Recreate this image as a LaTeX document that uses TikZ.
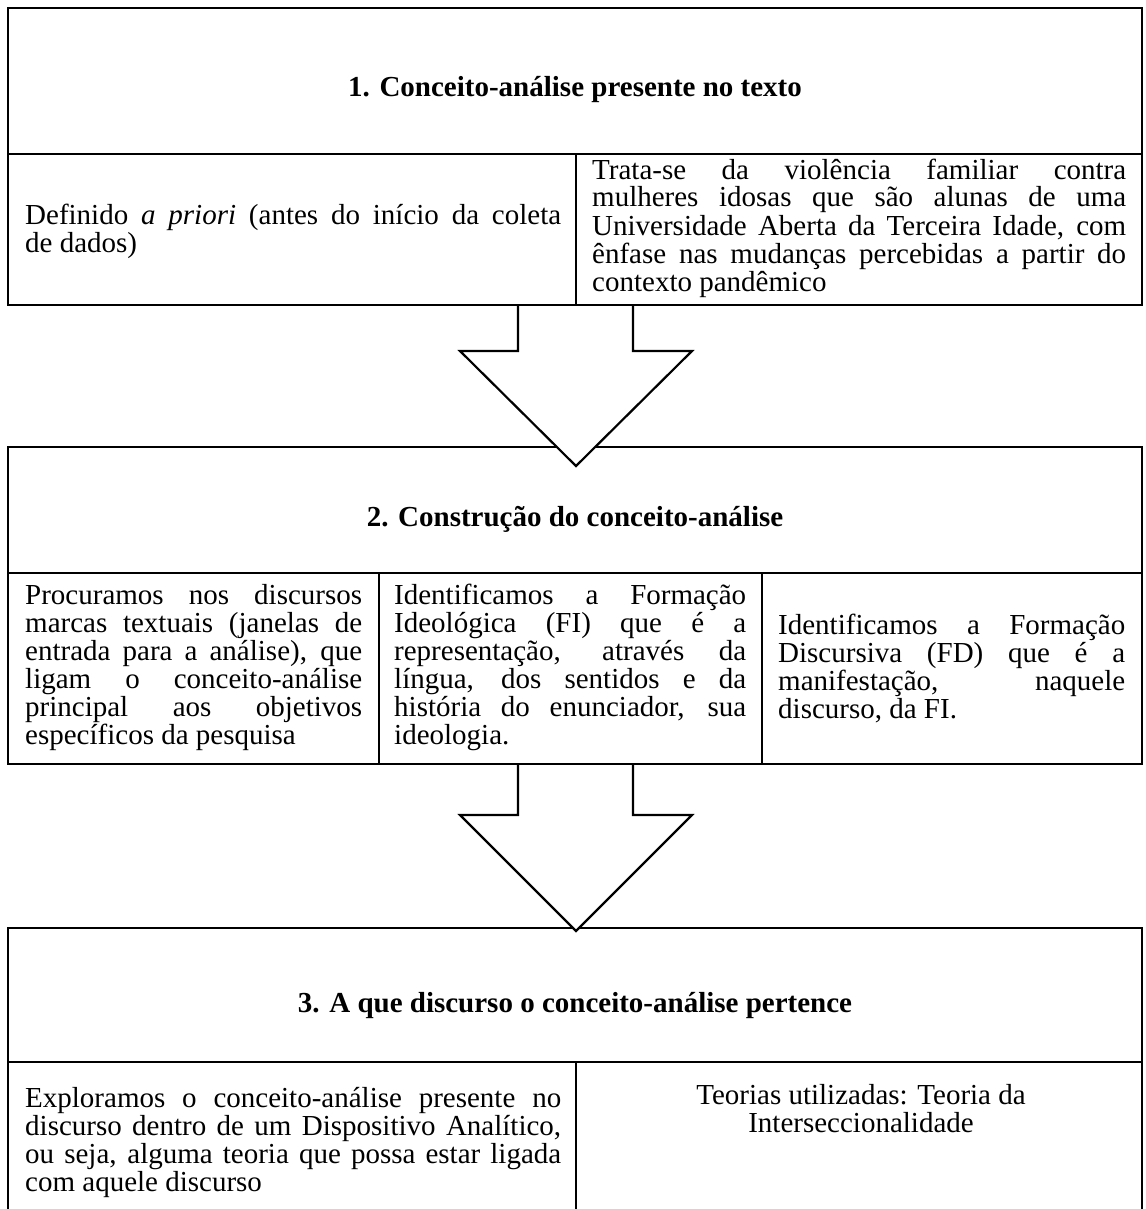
\documentclass[tikz,border=0pt]{standalone}
\usepackage{fontspec}
\setmainfont{Liberation Serif}
\newcommand{\bodyfont}{\fontsize{29}{28}\selectfont}
\tikzset{
  frame/.style={line width=2.2pt},
  celltext/.style={anchor=base west, inner sep=0pt, align=justify, font=\bodyfont},
  centertext/.style={anchor=base, inner sep=0pt, align=center, font=\bodyfont},
  titletext/.style={anchor=base, inner sep=0pt, font=\bodyfont\bfseries},
  bigarrow/.style={draw, fill=white, line width=2.2pt},
}
\begin{document}
\begin{tikzpicture}[x=1pt,y=-1pt]
\useasboundingbox (0,0) rectangle (1145,1209);
\fill[white] (0,0) rectangle (1145,1209);

% ---- box 1 ----
\draw[frame] (8,8) rectangle (1142,305);
\draw[frame] (8,154) -- (1142,154);
\draw[frame] (576,154) -- (576,305);
% ---- box 2 ----
\draw[frame] (8,447) rectangle (1142,764);
\draw[frame] (8,573) -- (1142,573);
\draw[frame] (379,573) -- (379,764);
\draw[frame] (762,573) -- (762,764);
% ---- box 3 (cut at the bottom) ----
\draw[frame] (8,1212) -- (8,928) -- (1142,928) -- (1142,1212);
\draw[frame] (8,1062) -- (1142,1062);
\draw[frame] (576,1062) -- (576,1212);

% ---- block arrows ----
\filldraw[bigarrow] (518,305) -- (518,351) -- (460,351) -- (576,466) -- (692,351) -- (633,351) -- (633,305);
\draw[frame] (500,305) -- (650,305);
\filldraw[bigarrow] (518,764) -- (518,815) -- (460,815) -- (576,931) -- (692,815) -- (633,815) -- (633,764);
\draw[frame] (500,764) -- (650,764);

% ---- titles ----
\node[titletext] (t1) at (575,97) {1. Conceito-análise presente no texto};
\node[titletext] (t2) at (575,526) {2. Construção do conceito-análise};
\node[titletext] (t3) at (575,1012) {3. A que discurso o conceito-análise pertence};

% ---- box 1 cells ----
\node[celltext, text width=536pt] (b1l) at (25,224)
  {Definido \textit{a priori} (antes do início da coleta\linebreak de dados)};
\node[celltext, text width=534pt] (b1r) at (592,179)
  {Trata-se da violência familiar contra\linebreak mulheres idosas que são alunas de uma\linebreak Universidade Aberta da Terceira Idade, com\linebreak ênfase nas mudanças percebidas a partir do\linebreak contexto pandêmico};

% ---- box 2 cells ----
\node[celltext, text width=337pt] (b2a) at (25,604)
  {Procuramos nos discursos\linebreak marcas textuais (janelas de\linebreak entrada para a análise), que\linebreak ligam o conceito-análise\linebreak principal aos objetivos\linebreak específicos da pesquisa};
\node[celltext, text width=352pt] (b2b) at (394,604)
  {Identificamos a Formação\linebreak Ideológica (FI) que é a\linebreak representação, através da\linebreak língua, dos sentidos e da\linebreak história do enunciador, sua\linebreak ideologia.};
\node[celltext, text width=347pt] (b2c) at (778,634)
  {Identificamos a Formação\linebreak Discursiva (FD) que é a\linebreak manifestação, naquele\linebreak discurso, da FI.};

% ---- box 3 cells ----
\node[celltext, text width=536pt] (b3l) at (25,1107)
  {Exploramos o conceito-análise presente no\linebreak discurso dentro de um Dispositivo Analítico,\linebreak ou seja, alguma teoria que possa estar ligada\linebreak com aquele discurso};
\node[centertext] (b3r) at (861,1132)
  {Teorias utilizadas: Teoria da\\ Interseccionalidade};
\end{tikzpicture}
\end{document}
